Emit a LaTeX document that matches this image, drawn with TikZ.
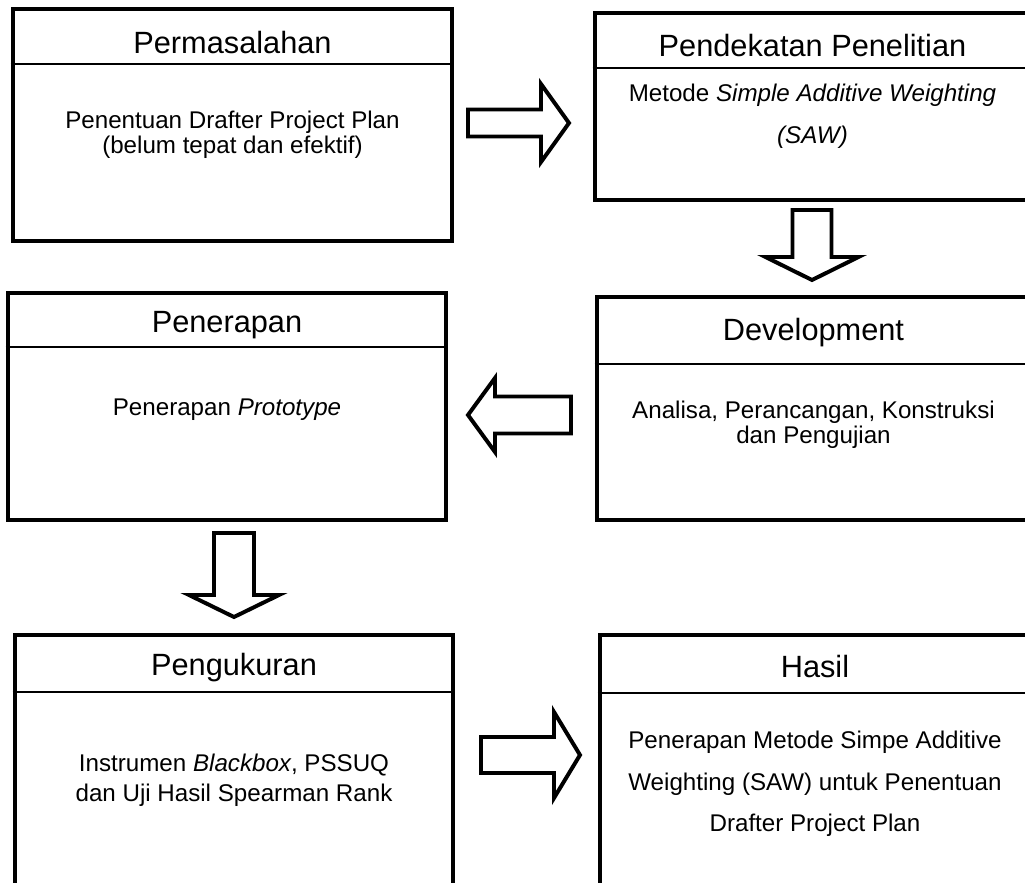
\documentclass[tikz,border=0pt]{standalone}
\usepackage{fontspec}
\setmainfont{Liberation Sans}
\newcommand{\px}{0.016cm}

\begin{document}
\begin{tikzpicture}[
    x=0.016cm, y=-0.016cm,
    box/.style={draw, line width=2.2pt, inner sep=0pt},
    sep/.style={line width=0.9pt},
    head/.style={font=\fontsize{14}{16}\selectfont},
    body/.style={align=center, font=\fontsize{11}{11.4}\selectfont},
    blk/.style={draw, line width=1.8pt, fill=white, line join=miter}
  ]
  \useasboundingbox (0,0) rectangle (1025,883);
  \clip (0,0) rectangle (1025,883);
  % Permasalahan
  \node[box, minimum width=439*\px, minimum height=232*\px] (masalah) at (232.5,125) {};
  \draw[sep] (masalah.west |- 0,64) -- (masalah.east |- 0,64);
  \node[head] (masalahT) at (masalah.center |- 0,43) {Permasalahan};
  \node[body] (masalahB) at (masalah.center |- 0,134.5) {%
    Penentuan Drafter Project Plan\\
    (belum tepat dan efektif)};
  % Pendekatan Penelitian
  \node[box, minimum width=435*\px, minimum height=187*\px] (dekat) at (812.5,106.5) {};
  \draw[sep] (dekat.west |- 0,68) -- (dekat.east |- 0,68);
  \node[head] (dekatT) at (dekat.center |- 0,46) {Pendekatan Penelitian};
  \node[body, font=\fontsize{11}{19}\selectfont] (dekatB) at (dekat.center |- 0,116) {%
    Metode \textit{Simple Additive Weighting}\\
    \textit{(SAW)}};
  % Development
  \node[box, minimum width=433*\px, minimum height=223*\px] (dev) at (813.5,408.5) {};
  \draw[sep] (dev.west |- 0,364) -- (dev.east |- 0,364);
  \node[head] (devT) at (dev.center |- 0,333) {Development};
  \node[body] (devB) at (dev.center |- 0,424.5) {%
    Analisa, Perancangan, Konstruksi\\
    dan Pengujian};
  % Penerapan
  \node[box, minimum width=438*\px, minimum height=227*\px] (terap) at (227,406.5) {};
  \draw[sep] (terap.west |- 0,347) -- (terap.east |- 0,347);
  \node[head] (terapT) at (terap.center |- 0,325) {Penerapan};
  \node[body] (terapB) at (terap.center |- 0,410) {Penerapan \textit{Prototype}};
  % Pengukuran
  \node[box, minimum width=438*\px, minimum height=265*\px] (ukur) at (234,767.5) {};
  \draw[sep] (ukur.west |- 0,692) -- (ukur.east |- 0,692);
  \node[head] (ukurT) at (ukur.center |- 0,668) {Pengukuran};
  \node[body, font=\fontsize{11}{13.7}\selectfont] (ukurB) at (ukur.center |- 0,780) {%
    Instrumen \textit{Blackbox}, PSSUQ\\
    dan Uji Hasil Spearman Rank};
  % Hasil
  \node[box, minimum width=430*\px, minimum height=265*\px] (hasil) at (815,767.5) {};
  \draw[sep] (hasil.west |- 0,693) -- (hasil.east |- 0,693);
  \node[head] (hasilT) at (hasil.center |- 0,667) {Hasil};
  \node[body, font=\fontsize{11}{19}\selectfont] (hasilB) at (hasil.center |- 0,784) {%
    Penerapan Metode Simpe Additive\\
    Weighting (SAW) untuk Penentuan\\
    Drafter Project Plan};
  % block arrows
  \draw[blk] (468,109.5) -- (541,109.5) -- (541,84) -- (569,123)
    -- (541,162) -- (541,136.5) -- (468,136.5) -- cycle;
  \draw[blk] (792.5,210) -- (831.5,210) -- (831.5,257) -- (858.5,257)
    -- (812,280) -- (765.5,257) -- (792.5,257) -- cycle;
  \draw[blk] (571,396.5) -- (495,396.5) -- (495,378) -- (468,415)
    -- (495,452) -- (495,433.5) -- (571,433.5) -- cycle;
  \draw[blk] (214,533) -- (254,533) -- (254,595) -- (279,595)
    -- (234,617) -- (189,595) -- (214,595) -- cycle;
  \draw[blk] (481,737) -- (554,737) -- (554,712) -- (580,755)
    -- (554,798) -- (554,773) -- (481,773) -- cycle;
\end{tikzpicture}
\end{document}
